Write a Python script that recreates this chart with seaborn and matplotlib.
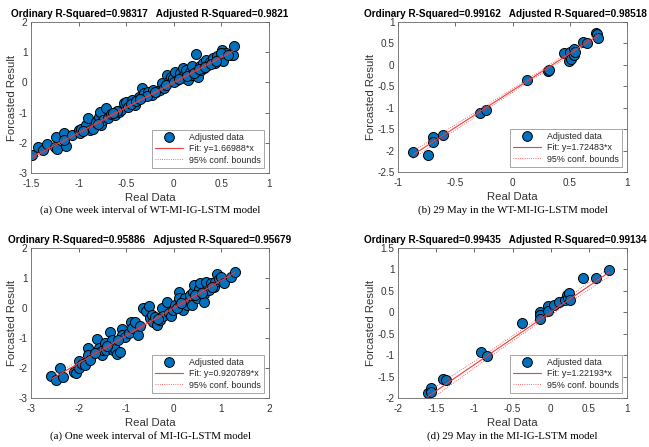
import numpy as np
import pandas as pd
import matplotlib
matplotlib.use("Agg")
import matplotlib.pyplot as plt
from matplotlib.lines import Line2D
import seaborn as sns

# ---- data -------------------------------------------------------------
# (a) one week interval, WT-MI-IG-LSTM
a_real = [-1.49, -1.43, -1.37, -1.33, -1.25, -1.24, -1.23, -1.15, -1.13, -1.15,
          -1.07, -1.00, -0.99, -0.97, -0.92, -0.90, -0.88, -0.85, -0.82, -0.79,
          -0.77, -0.76, -0.74, -0.71, -0.69, -0.66, -0.62, -0.58, -0.55, -0.52,
          -0.50, -0.48, -0.44, -0.41, -0.37, -0.34, -0.33, -0.31, -0.27, -0.23,
          -0.22, -0.19, -0.15, -0.12, -0.10, -0.07, -0.05, -0.03, -0.01, 0.01,
          0.03, 0.06, 0.08, 0.10, 0.11, 0.13, 0.15, 0.17, 0.19, 0.20,
          0.23, 0.23, 0.25, 0.27, 0.29, 0.31, 0.32, 0.34, 0.36, 0.38,
          0.41, 0.43, 0.45, 0.47, 0.51, 0.52, 0.55, 0.59, 0.62, 0.63,
          0.50, -0.60, -0.45, -0.28, -0.20, -0.08, 0.00, 0.05, 0.14, 0.21,
          0.26, 0.33, 0.39, 0.44, 0.57, -0.95, -0.80, -0.64, -0.40, -0.36]
a_pred = [-2.41, -2.14, -2.25, -2.05, -2.14, -1.82, -2.19, -1.69, -2.11, -1.91,
          -1.75, -1.58, -1.69, -1.53, -1.41, -1.19, -1.58, -1.53, -1.30, -1.14,
          -0.97, -1.41, -1.25, -0.86, -1.19, -1.03, -1.08, -0.97, -0.92, -0.69,
          -0.64, -0.80, -0.58, -0.75, -0.47, -0.53, -0.20, -0.36, -0.31, -0.42,
          -0.25, -0.31, -0.25, -0.03, -0.20, 0.25, 0.03, 0.19, 0.14, 0.36,
          0.08, 0.30, 0.14, 0.47, 0.25, 0.41, 0.08, 0.36, 0.53, 0.25,
          0.94, 0.36, 0.19, 0.53, 0.41, 0.64, 0.47, 0.75, 0.58, 0.69,
          0.80, 0.64, 0.86, 0.75, 1.08, 0.71, 0.97, 0.91, 0.91, 1.19,
          0.97, -0.95, -0.72, -0.45, -0.32, -0.10, 0.02, 0.12, 0.20, 0.30,
          0.45, 0.52, 0.60, 0.70, 0.92, -1.62, -1.38, -1.00, -0.62, -0.55]

# (b) 29 May, WT-MI-IG-LSTM
b_real = [-0.87, -0.74, -0.69, -0.69, -0.61, -0.28, -0.23, 0.13, 0.31, 0.32,
          0.45, 0.49, 0.50, 0.51, 0.54, 0.54, 0.55, 0.62, 0.65, 0.73, 0.74, 0.75]
b_pred = [-2.03, -2.11, -1.68, -1.79, -1.64, -1.12, -1.06, -0.35, -0.15, -0.11,
          0.27, 0.09, 0.30, 0.14, 0.36, 0.24, 0.29, 0.53, 0.50, 0.74, 0.72, 0.62]

# (c) one week interval, MI-IG-LSTM
c_real = [-2.57, -2.47, -2.40, -2.33, -2.10, -2.05, -2.00, -2.00, -1.93, -1.86,
          -1.81, -1.81, -1.76, -1.62, -1.58, -1.55, -1.51, -1.48, -1.44, -1.42,
          -1.37, -1.34, -1.30, -1.27, -1.23, -1.20, -1.13, -1.09, -1.09, -1.02,
          -0.95, -0.90, -0.88, -0.81, -0.76, -0.65, -0.58, -0.53, -0.50, -0.46,
          -0.43, -0.39, -0.36, -0.29, -0.24, -0.22, -0.15, -0.11, -0.06, -0.01,
          0.03, 0.10, 0.10, 0.13, 0.17, 0.20, 0.24, 0.27, 0.31, 0.34,
          0.38, 0.41, 0.43, 0.49, 0.52, 0.56, 0.63, 0.64, 0.68, 0.73,
          0.78, 0.84, 0.87, 0.91, 0.94, 0.99, 1.05, 1.21, 1.28,
          -1.65, -1.40, -1.18, -0.70, -0.33, 0.06, 0.15, 0.45, 0.60, 0.80]
c_pred = [-2.28, -2.40, -1.99, -2.29, -2.12, -2.18, -1.78, -2.00, -1.87, -1.90,
          -1.34, -1.57, -1.73, -1.04, -1.32, -1.46, -1.57, -1.40, -1.18, -1.40,
          -1.24, -0.79, -1.07, -1.40, -1.35, -1.52, -1.46, -0.71, -0.90, -0.96,
          -0.84, -0.46, -0.68, -0.45, -0.90, -0.01, -0.10, 0.08, -0.33, -0.22,
          -0.47, -0.29, -0.55, -0.40, -0.01, -0.25, 0.21, -0.18, -0.26, -0.07,
          0.10, 0.54, 0.33, 0.10, 0.21, -0.08, 0.33, 0.10, 0.23, 0.43,
          0.10, 0.54, 0.78, 0.33, 0.65, 0.82, 0.48, 0.21, 0.87, 0.60,
          0.82, 0.71, 0.87, 1.12, 0.98, 1.04, 0.82, 1.04, 1.20,
          -1.50, -1.25, -1.05, -0.60, -0.35, 0.00, 0.18, 0.42, 0.50, 0.70]

# (d) 29 May, MI-IG-LSTM
d_real = [-1.61, -1.57, -1.57, -1.41, -1.37, -0.91, -0.84, -0.37, -0.14, -0.14,
          -0.14, -0.04, -0.03, 0.05, 0.11, 0.19, 0.21, 0.23, 0.24, 0.25,
          0.43, 0.59, 0.77]
d_pred = [-1.89, -1.77, -1.85, -1.55, -1.58, -0.93, -1.02, -0.24, 0.00, -0.06,
          -0.16, 0.14, 0.03, 0.18, 0.24, 0.28, 0.40, 0.34, 0.44, 0.29,
          0.81, 0.80, 0.99]

fit_slope = [1.66988, 1.72483, 0.920789, 1.22193]
fit_intercept = [0.0, -0.60, 0.0, 0.0]
fit_text = ["1.66988", "1.72483", "0.920789", "1.22193"]
r2_ordinary = ["0.98317", "0.99162", "0.95886", "0.99435"]
r2_adjusted = ["0.9821", "0.98518", "0.95679", "0.99134"]
captions = ["(a) One week interval of WT-MI-IG-LSTM model",
            "(b) 29 May in the WT-MI-IG-LSTM model",
            "(a) One week interval of MI-IG-LSTM model",
            "(d) 29 May in the MI-IG-LSTM model"]
x_ticks = [[-1.5, -1, -0.5, 0, 0.5, 1], [-1, -0.5, 0, 0.5, 1],
           [-3, -2, -1, 0, 1, 2], [-2, -1.5, -1, -0.5, 0, 0.5, 1]]
y_ticks = [[-3, -2, -1, 0, 1, 2], [-2.5, -2, -1.5, -1, -0.5, 0, 0.5, 1],
           [-3, -2, -1, 0, 1, 2], [-2, -1.5, -1, -0.5, 0, 0.5, 1, 1.5]]

# ---- style ------------------------------------------------------------
sns.set_theme(style="white")
plt.rcParams["font.family"] = ["Liberation Sans", "DejaVu Sans"]

W, H = 649, 447
fig = plt.figure(figsize=(W / 100, H / 100), dpi=100)

def frac_box(x0, y0, x1, y1):
    return [x0 / W, 1 - y1 / H, (x1 - x0) / W, (y1 - y0) / H]

boxes = [frac_box(31, 22, 269, 173), frac_box(398, 22, 627, 172),
         frac_box(31, 248, 269, 398), frac_box(398, 248, 627, 398)]
caption_y = [210, 210, 436, 436]

datasets = [(a_real, a_pred), (b_real, b_pred), (c_real, c_pred), (d_real, d_pred)]
TXT = "#333333"
FIT = "#f03c3c"

def tick_fmt(v):
    return f"{v:g}"

for i, (xs, ys) in enumerate(datasets):
    ax = fig.add_axes(boxes[i])
    df = pd.DataFrame({"Real Data": xs, "Forcasted Result": ys})
    sns.scatterplot(data=df, x="Real Data", y="Forcasted Result", ax=ax,
                    s=52, color="#0072BD", edgecolor="black", linewidth=0.7,
                    zorder=2, legend=False)

    x = np.asarray(xs)
    y = np.asarray(ys)
    xl = np.linspace(x.min(), x.max(), 100)
    yl = fit_slope[i] * xl + fit_intercept[i]
    resid = y - (fit_slope[i] * x + fit_intercept[i])
    n = len(x)
    s_err = np.sqrt(np.sum(resid ** 2) / (n - 2))
    sxx = np.sum((x - x.mean()) ** 2)
    half = 2.0 * s_err * np.sqrt(1 / n + (xl - x.mean()) ** 2 / sxx)

    ax.plot(xl, yl, color=FIT, lw=0.8, zorder=3)
    ax.plot(xl, yl + half, color=FIT, lw=0.6, ls=":", zorder=3)
    ax.plot(xl, yl - half, color=FIT, lw=0.6, ls=":", zorder=3)

    ax.set_xlim(x_ticks[i][0], x_ticks[i][-1])
    ax.set_ylim(y_ticks[i][0], y_ticks[i][-1])
    ax.set_xticks(x_ticks[i])
    ax.set_yticks(y_ticks[i])
    ax.set_xticklabels([tick_fmt(v) for v in x_ticks[i]])
    ax.set_yticklabels([tick_fmt(v) for v in y_ticks[i]])
    ax.tick_params(direction="in", length=3, width=0.5, top=True, right=True,
                   labelsize=7.2, colors=TXT)
    ax.tick_params(axis="x", pad=4)
    ax.tick_params(axis="y", pad=2.5)
    for sp in ax.spines.values():
        sp.set_color("#666666")
        sp.set_linewidth(0.6)
    ax.set_xlabel("Real Data", fontsize=8.2, color=TXT, labelpad=3)
    ax.set_ylabel("Forcasted Result", fontsize=8.2, color=TXT, labelpad=1)

    title = f"Ordinary R-Squared={r2_ordinary[i]}   Adjusted R-Squared={r2_adjusted[i]}"
    title_y = 1 - (caption_y[i] - 196) / H
    if i % 2 == 0:
        fig.text(boxes[i][0] + boxes[i][2] / 2, title_y, title, ha="center",
                 va="center", fontsize=7.2, fontweight="bold", color="black")
    else:
        # right-hand panels: keep the long title inside the canvas
        fig.text(647 / W, title_y, title, ha="right", va="center",
                 fontsize=7.2, fontweight="bold", color="black")

    handles = [
        Line2D([], [], ls="none", marker="o", markersize=7,
               markerfacecolor="#0072BD", markeredgecolor="black", markeredgewidth=0.7),
        Line2D([], [], color=FIT, lw=0.8),
        Line2D([], [], color=FIT, lw=0.6, ls=":"),
    ]
    labels = ["Adjusted data", f"Fit: y={fit_text[i]}*x", "95% conf. bounds"]
    leg = ax.legend(handles, labels, loc="lower right", fontsize=6.4,
                    frameon=True, fancybox=False, edgecolor="#666666",
                    borderpad=0.35, labelspacing=0.25, handlelength=3.2,
                    handletextpad=0.6, borderaxespad=0.6)
    leg.get_frame().set_linewidth(0.5)
    leg.set_zorder(5)

    cx = (boxes[i][0] + boxes[i][2] / 2)
    fig.text(cx, 1 - caption_y[i] / H, captions[i], ha="center", va="center",
             fontsize=7.8, family=["Liberation Serif", "DejaVu Serif"], color="black")

fig.savefig("out.png", dpi=100)
